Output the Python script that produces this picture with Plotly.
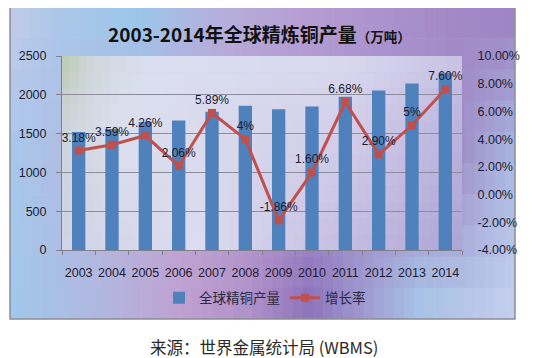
import plotly.graph_objects as go

# ---------------- data ----------------
years = [str(y) for y in range(2003, 2015)]
production = [1520, 1560, 1650, 1670, 1780, 1860, 1815, 1850, 1975, 2055, 2145, 2280]
growth = [3.18, 3.59, 4.26, 2.06, 5.89, 4.0, -1.86, 1.60, 6.68, 2.90, 5.0, 7.60]
growth_labels = ["3.18%", "3.59%", "4.26%", "2.06%", "5.89%", "4%", "-1.86%",
                 "1.60%", "6.68%", "2.90%", "5%", "7.60%"]
left_ticks = [0, 500, 1000, 1500, 2000, 2500]
right_ticks = [-4, -2, 0, 2, 4, 6, 8, 10]
right_tick_labels = ["-4.00%", "-2.00%", "0.00%", "2.00%", "4.00%", "6.00%", "8.00%", "10.00%"]
title_main = "2003-2014年全球精炼铜产量"
title_unit = "（万吨）"
series_names = ["全球精铜产量", "增长率"]
source_text = "来源：世界金属统计局 (WBMS)"

# ---------------- layout geometry (reference pixel coords) ----------------
OFF = 8                      # page body margin offset
W, H = 537 - OFF, 358 - OFF  # figure size
PL, PR, PT, PB = 62, 462, 56, 250   # plot area in reference pixels
PW, PH = PR - PL, PB - PT

def px2paper_x(px):
    return (px - PL) / PW

def px2paper_y(py):
    return (PB - py) / PH

def hex2rgb(h):
    h = h.lstrip('#')
    return [int(h[i:i + 2], 16) for i in (0, 2, 4)]

def lerp(a, b, t):
    return [a[i] + (b[i] - a[i]) * t for i in range(3)]

def row_color(stops, x):
    if x <= stops[0][0]:
        return hex2rgb(stops[0][1])
    for i in range(len(stops) - 1):
        x0, c0 = stops[i]
        x1, c1 = stops[i + 1]
        if x0 <= x <= x1:
            t = (x - x0) / (x1 - x0)
            return lerp(hex2rgb(c0), hex2rgb(c1), t)
    return hex2rgb(stops[-1][1])

def grid_color(rows, x, y):
    if y <= rows[0][0]:
        return row_color(rows[0][1], x)
    for i in range(len(rows) - 1):
        y0, s0 = rows[i]
        y1, s1 = rows[i + 1]
        if y0 <= y <= y1:
            t = (y - y0) / (y1 - y0)
            return lerp(row_color(s0, x), row_color(s1, x), t)
    return row_color(rows[-1][1], x)

def gradient_shapes(x0, x1, y0, y1, rows, ncol, nrow):
    shapes = []
    dx = (x1 - x0) / ncol
    dy = (y1 - y0) / nrow
    for i in range(ncol):
        for j in range(nrow):
            cx = x0 + (i + 0.5) * dx
            cy = y0 + (j + 0.5) * dy
            c = grid_color(rows, cx, cy)
            col = "rgb(%d,%d,%d)" % tuple(int(round(v)) for v in c)
            xa = x0 + i * dx
            xb = min(x0 + (i + 1) * dx + 0.6, x1)
            ya = y0 + j * dy
            yb = min(y0 + (j + 1) * dy + 0.6, y1)
            shapes.append(dict(
                type="rect", xref="paper", yref="paper", layer="below",
                x0=px2paper_x(xa), x1=px2paper_x(xb),
                y0=px2paper_y(yb), y1=px2paper_y(ya),
                fillcolor=col, line=dict(width=0)))
    return shapes

frame_rows = [
    (7, [(10, "#c4cbe9"), (60, "#aac8ea"), (140, "#98c8ec"), (220, "#b4b0dc"),
         (300, "#b8a0d4"), (400, "#a890cc"), (515, "#9c80c0")]),
    (160, [(10, "#a6c8ec"), (100, "#b8b4dc"), (200, "#c0a4d4"), (320, "#a890cc"),
           (460, "#a090c8"), (515, "#a8bce4")]),
    (319, [(10, "#a0c8ea"), (100, "#b0b8e0"), (180, "#c0a0d0"), (250, "#b090c8"),
           (310, "#8a70b8"), (370, "#a0a0d4"), (420, "#a8c8ea"), (515, "#c8d0ee")]),
]
plot_rows = [
    (56, [(62, "#bccaae"), (90, "#ccd6d8"), (150, "#dadff0"), (350, "#d8d8ee"), (462, "#c8c4e4")]),
    (120, [(62, "#ccd4d8"), (120, "#dce0ee"), (350, "#d4d0ea"), (462, "#bcb4de")]),
    (250, [(62, "#d0d4e4"), (200, "#dcdcf0"), (350, "#c4bce0"), (462, "#aca4d4")]),
]

shapes = []
shapes += gradient_shapes(10, 515, 7, 319, frame_rows, 50, 10)
shapes += gradient_shapes(PL, PR, PT, PB, plot_rows, 50, 12)
shapes.append(dict(type="rect", xref="paper", yref="paper", layer="below",
                   x0=px2paper_x(10), x1=px2paper_x(515), y0=px2paper_y(319), y1=px2paper_y(7),
                   line=dict(color="#8c8c96", width=1.5), fillcolor="rgba(0,0,0,0)"))

NUM_FONT = "Liberation Sans, Noto Sans CJK SC, sans-serif"
CJK_FONT = "Noto Sans CJK SC, sans-serif"
TXT = "#1c1c30"

fig = go.Figure()
fig.add_trace(go.Bar(
    x=years, y=production, name=series_names[0],
    marker=dict(color="#4f81bd", line=dict(width=0)),
    yaxis="y"))
fig.add_trace(go.Scatter(
    x=years, y=growth, name=series_names[1], yaxis="y2",
    mode="lines+markers+text", text=growth_labels, textposition="top center",
    textfont=dict(size=12, color=TXT, family=NUM_FONT),
    line=dict(color="#c0504d", width=3),
    marker=dict(symbol="square", size=8, color="#c0504d"),
    cliponaxis=False))

fig.update_layout(
    width=W, height=H,
    margin=dict(l=PL - OFF, r=W - (PR - OFF), t=PT - OFF, b=H - (PB - OFF), pad=0),
    paper_bgcolor="white", plot_bgcolor="rgba(0,0,0,0)",
    bargap=0.6,
    showlegend=True,
    legend=dict(orientation="h", x=px2paper_x(265), xanchor="center",
                y=px2paper_y(298), yanchor="middle", bgcolor="rgba(0,0,0,0)",
                font=dict(size=13.5, color="#2a2a40", family=CJK_FONT),
                itemwidth=30, traceorder="normal"),
    xaxis=dict(type="category", range=[-0.5, 11.5], showgrid=False,
               showline=True, linecolor="#80808c", linewidth=1,
               ticks="outside", tickson="boundaries", ticklen=4, tickcolor="#80808c",
               tickangle=0, ticklabelstandoff=11, automargin=False,
               tickfont=dict(size=12.5, color=TXT, family=NUM_FONT)),
    yaxis=dict(range=[0, 2500], tickvals=left_ticks, showgrid=True,
               gridcolor="#8c8c9c", gridwidth=1, zeroline=False,
               showline=True, linecolor="#80808c", linewidth=1,
               ticks="outside", ticklen=5, tickcolor="#80808c",
               ticklabelstandoff=7, automargin=False,
               tickfont=dict(size=12.5, color=TXT, family=NUM_FONT)),
    yaxis2=dict(range=[-4, 10], overlaying="y", side="right",
                tickvals=right_ticks, ticktext=right_tick_labels,
                showgrid=False, zeroline=False, showline=False,
                ticks="outside", ticklen=5, tickcolor="rgba(0,0,0,0)",
                ticklabelstandoff=7, automargin=False,
                tickfont=dict(size=12.5, color=TXT, family=NUM_FONT)),
    shapes=shapes,
    annotations=[
        dict(xref="paper", yref="paper", x=px2paper_x(259), y=px2paper_y(34),
             xanchor="center", yanchor="middle", showarrow=False,
             text="<b>" + title_main + "</b><span style='font-size:13.5px'><b>" + title_unit + "</b></span>",
             font=dict(size=19, color="#111111", family=CJK_FONT)),
        dict(xref="paper", yref="paper", x=px2paper_x(264), y=px2paper_y(347),
             xanchor="center", yanchor="middle", showarrow=False,
             text=source_text,
             font=dict(size=16.5, color="#2a2a2a", family=CJK_FONT)),
    ],
)

fig.write_html("out.html")
